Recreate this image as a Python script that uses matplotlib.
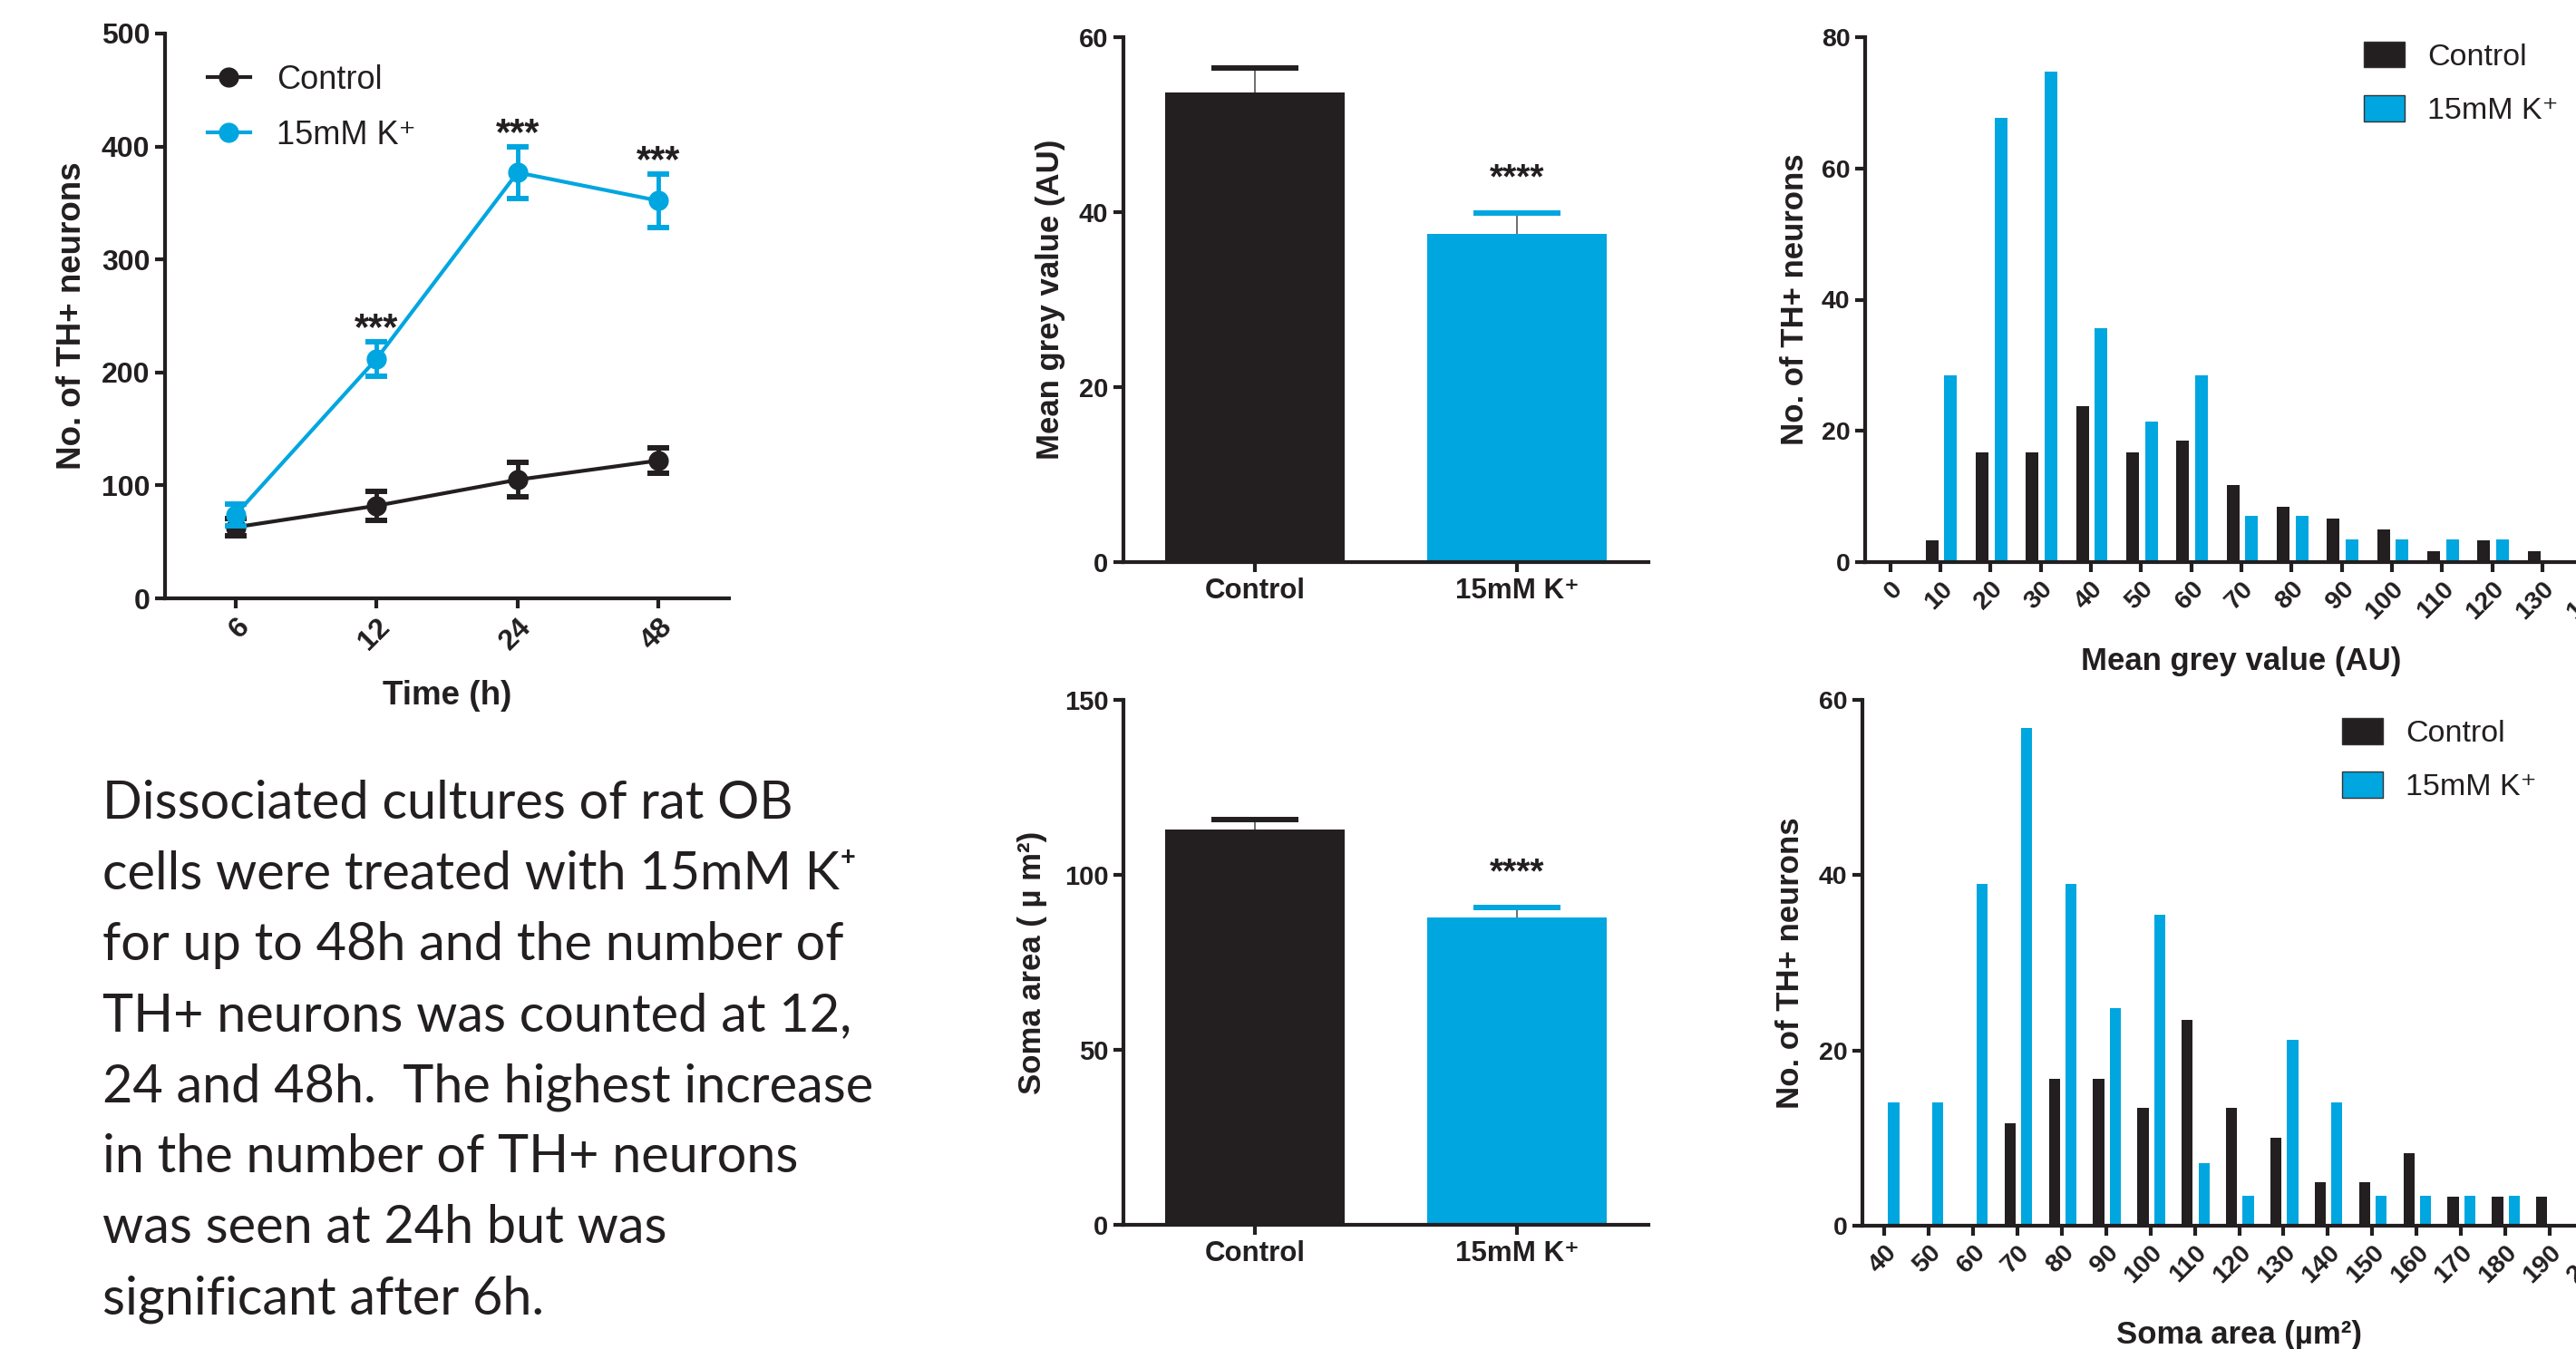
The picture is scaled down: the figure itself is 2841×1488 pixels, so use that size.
import numpy as np
import matplotlib
matplotlib.use('Agg')
import matplotlib.pyplot as plt

INK = '#231F20'
CYAN = '#00A6E0'

plt.rcParams['font.family'] = ['Liberation Sans', 'DejaVu Sans']
plt.rcParams['font.weight'] = 'bold'
plt.rcParams['axes.labelweight'] = 'bold'
plt.rcParams['text.color'] = INK
plt.rcParams['axes.edgecolor'] = INK
plt.rcParams['axes.labelcolor'] = INK
plt.rcParams['xtick.color'] = INK
plt.rcParams['ytick.color'] = INK

# TH+ counts over time (mean, sem)
hours = ['6', '12', '24', '48']
ctrl_count = [63, 82, 105, 122]
ctrl_count_err = [8, 13, 15, 11]
k_count = [74, 212, 377, 352]
k_count_err = [9.5, 15, 23, 24]
count_stars = ['', '***', '***', '***']

# bar charts
groups = ['Control', '15mM K\u207a']
grey_mean = [53.7, 37.5]
grey_err = [2.8, 2.4]
soma_mean = [112.9, 87.9]
soma_err = [2.9, 2.7]
bar_stars = ['', '****']

# histograms
grey_bins = list(range(0, 140, 10))
grey_ticks = list(range(0, 150, 10))
grey_ctrl = [0, 3.3, 16.7, 16.7, 23.7, 16.7, 18.5, 11.8, 8.4, 6.7, 5.0, 1.7, 3.3, 1.7]
grey_k = [0, 28.5, 67.7, 74.8, 35.7, 21.4, 28.5, 7.1, 7.1, 3.5, 3.5, 3.5, 3.5, 0]

soma_bins = list(range(40, 200, 10))
soma_ticks = list(range(40, 210, 10))
soma_ctrl = [0, 0, 0, 11.7, 16.8, 16.8, 13.4, 23.5, 13.4, 10.0, 5.0, 5.0, 8.3, 3.3, 3.3, 3.3]
soma_k = [14.1, 14.1, 39.0, 56.8, 39.0, 24.8, 35.5, 7.1, 3.4, 21.2, 14.1, 3.4, 3.4, 3.4, 3.4, 0]

text_lines = ["Dissociated cultures of rat OB",
              "cells were treated with 15mM K\u207a",
              "for up to 48h and the number of",
              "TH+ neurons was counted at 12,",
              "24 and 48h.  The highest increase",
              "in the number of TH+ neurons",
              "was seen at 24h but was",
              "significant after 6h."]

W, H = 2841, 1488
fig = plt.figure(figsize=(W / 100, H / 100), dpi=100)


def add_px(left, top, right, bottom):
    return fig.add_axes([left / W, 1 - bottom / H, (right - left) / W, (bottom - top) / H])


def style(ax, size):
    for s in ['top', 'right']:
        ax.spines[s].set_visible(False)
    for s in ['left', 'bottom']:
        ax.spines[s].set_linewidth(3)
    ax.tick_params(width=3, length=8, labelsize=size, pad=4)


# --- time course ---
ax1 = add_px(182, 37, 804, 660)
x = np.arange(len(hours))
eb1 = ax1.errorbar(x, ctrl_count, yerr=ctrl_count_err, fmt='-o', color=INK, ms=15,
                   lw=3, elinewidth=3.5, capsize=8.5, capthick=4.3, zorder=3)
eb2 = ax1.errorbar(x, k_count, yerr=k_count_err, fmt='-o', color=CYAN, ms=15,
                   lw=3, elinewidth=3.5, capsize=8.5, capthick=4.3, zorder=4)
for xi, yi, ei, s in zip(x, k_count, k_count_err, count_stars):
    ax1.annotate(s, (xi, yi + ei), xytext=(0, 2), textcoords='offset points',
                 ha='center', va='baseline', fontsize=30)
ax1.set_xlim(-0.5, 3.5)
ax1.set_ylim(0, 500)
ax1.set_yticks(range(0, 501, 100))
ax1.set_xticks(x)
ax1.set_xticklabels(hours, rotation=45, ha='right', rotation_mode='anchor')
style(ax1, 23)
ax1.set_xlabel('Time (h)', fontsize=26.5)
ax1.xaxis.set_label_coords(0.5, -0.1445)
ax1.set_ylabel('No. of TH+ neurons', fontsize=26.5)
ax1.yaxis.set_label_coords(-0.137, 0.5)
ax1.legend([eb1[0], eb2[0]], ['Control', '15mM K\u207a'], loc='upper left',
           bbox_to_anchor=(0.0756, 0.946), borderaxespad=0, borderpad=0, frameon=False,
           handlelength=1.3, handletextpad=0.8, labelspacing=0.73,
           prop={'size': 26, 'weight': 'normal'})


# --- bar charts ---
def bar_panel(ax, means, errs, ymax, step, ylabel, label_x):
    pos = np.arange(len(groups))
    colors = [INK, CYAN]
    ax.bar(pos, means, width=0.685, color=colors, linewidth=0, zorder=2)
    ax.errorbar(pos, means, yerr=[[0] * len(errs), errs], fmt='none', ecolor='#555555',
                elinewidth=1.2, capsize=0, zorder=3)
    tops = np.array(means) + np.array(errs)
    ax.scatter(pos, tops, marker='_', s=69 ** 2, c=colors, linewidths=4.3, zorder=4)
    for p, t, s in zip(pos, tops, bar_stars):
        ax.annotate(s, (p, t), xytext=(0, 20), textcoords='offset points',
                    ha='center', va='baseline', fontsize=28)
    ax.set_xlim(-0.5, 1.5)
    ax.set_ylim(0, ymax)
    ax.set_yticks(np.arange(0, ymax + 1, step))
    ax.set_xticks(pos)
    ax.set_xticklabels(groups)
    style(ax, 21)
    ax.tick_params(axis='x', labelsize=22.5)
    ax.set_ylabel(ylabel, fontsize=25)
    ax.yaxis.set_label_coords(label_x, 0.5)


ax2 = add_px(1239, 41, 1818, 620)
bar_panel(ax2, grey_mean, grey_err, 60, 20, 'Mean grey value (AU)', -0.11)
ax3 = add_px(1239, 772, 1818, 1351)
bar_panel(ax3, soma_mean, soma_err, 150, 50, 'Soma area ( \u00b5 m\u00b2)', -0.145)


# --- histograms ---
def hist_panel(ax, bins, ticks, ctrl, k, ymax, xlabel, label_y, ylabel_x, leg_xy):
    b = np.array(bins)
    ax.bar(b - 1.7, ctrl, width=2.5, color=INK, linewidth=0, label='Control')
    ax.bar(b + 2.05, k, width=2.5, color=CYAN, linewidth=0, label='15mM K\u207a')
    ax.set_xlim(ticks[0] - 5, ticks[-1] + 5)
    ax.set_ylim(0, ymax)
    ax.set_yticks(range(0, ymax + 1, 20))
    ax.set_xticks(ticks)
    ax.set_xticklabels([str(t) for t in ticks], rotation=45, ha='right', rotation_mode='anchor')
    style(ax, 20.5)
    ax.set_xlabel(xlabel, fontsize=25)
    ax.xaxis.set_label_coords(0.5, label_y)
    ax.set_ylabel('No. of TH+ neurons', fontsize=25)
    ax.yaxis.set_label_coords(ylabel_x, 0.5)
    leg = ax.legend(loc='upper left', bbox_to_anchor=leg_xy, borderaxespad=0, borderpad=0,
                    frameon=False, handlelength=1.3, handleheight=0.9, handletextpad=0.76,
                    labelspacing=0.77, prop={'size': 24.5, 'weight': 'normal'})
    for h in leg.legend_handles:
        h.set_edgecolor('#333333')
        h.set_linewidth(1)


ax4 = add_px(2057, 41, 2057 + 830, 620)
hist_panel(ax4, grey_bins, grey_ticks, grey_ctrl, grey_k, 80, 'Mean grey value (AU)',
           -0.161, -0.0735, (0.663, 0.991))
ax5 = add_px(2054, 772, 2054 + 831, 1352)
hist_panel(ax5, soma_bins, soma_ticks, soma_ctrl, soma_k, 60, 'Soma area (\u00b5m\u00b2)',
           -0.18, -0.0758, (0.637, 0.965))

# --- description text ---
for i, line in enumerate(text_lines):
    fig.text(113 / W, 1 - (903 + i * 78) / H, line, family=['Lato', 'DejaVu Sans'],
             fontsize=41.5, fontweight='normal', va='baseline', ha='left')

fig.savefig('out.png', dpi=100)
